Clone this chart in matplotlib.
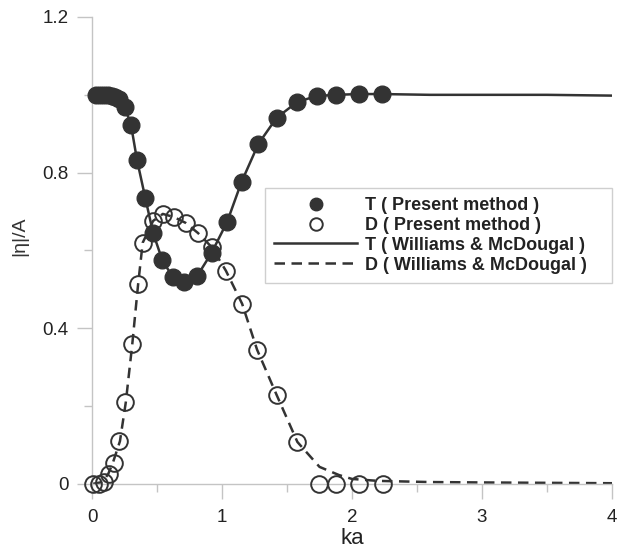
import matplotlib
matplotlib.use("Agg")
import matplotlib.pyplot as plt
from matplotlib.ticker import MultipleLocator, FuncFormatter

plt.rcParams['font.family'] = ['Liberation Sans', 'DejaVu Sans']

# T (present method) - filled circles
t_ka = [0.03, 0.06, 0.09, 0.12, 0.15, 0.18, 0.21, 0.25, 0.30, 0.346, 0.41, 0.47,
        0.54, 0.62, 0.71, 0.81, 0.92, 1.04, 1.15, 1.28, 1.42, 1.58, 1.73, 1.88, 2.05, 2.23]
t_val = [1.0, 1.0, 1.0, 1.0, 0.998, 0.995, 0.99, 0.97, 0.923, 0.833, 0.735, 0.645,
         0.576, 0.532, 0.519, 0.535, 0.594, 0.674, 0.776, 0.874, 0.941, 0.982, 0.997, 1.0, 1.003, 1.003]

# D (present method) - open circles
d_ka = [0.01, 0.05, 0.09, 0.13, 0.17, 0.21, 0.255, 0.31, 0.355, 0.39, 0.47, 0.545,
        0.63, 0.72, 0.815, 0.92, 1.03, 1.155, 1.27, 1.42, 1.58, 1.745, 1.88, 2.05, 2.24]
d_val = [0.0, 0.0, 0.005, 0.025, 0.054, 0.11, 0.21, 0.36, 0.514, 0.62, 0.676, 0.694,
         0.686, 0.671, 0.645, 0.609, 0.548, 0.463, 0.345, 0.229, 0.108, 0.0, 0.0, 0.0, 0.0]

# T (Williams & McDougal) - solid line
tw_ka = [0.0, 0.1, 0.2, 0.25, 0.30, 0.346, 0.41, 0.47, 0.54, 0.62, 0.71, 0.81, 0.92,
         1.04, 1.15, 1.28, 1.42, 1.58, 1.73, 1.88, 2.05, 2.23, 2.6, 3.0, 3.5, 4.0]
tw_val = [1.0, 1.0, 0.993, 0.97, 0.923, 0.833, 0.735, 0.645, 0.576, 0.532, 0.519, 0.535,
          0.594, 0.674, 0.776, 0.874, 0.941, 0.982, 0.997, 1.0, 1.002, 1.002, 1.0, 1.0, 1.0, 0.998]

# D (Williams & McDougal) - dashed line
dw_ka = [0.0, 0.08, 0.125, 0.16, 0.215, 0.26, 0.31, 0.355, 0.39, 0.47, 0.545, 0.63,
         0.72, 0.815, 0.92, 1.03, 1.155, 1.27, 1.42, 1.58, 1.75, 1.9, 2.0, 2.2, 2.6,
         3.0, 3.5, 4.0]
dw_val = [0.0, 0.005, 0.026, 0.054, 0.11, 0.21, 0.36, 0.514, 0.62, 0.676, 0.694, 0.686,
          0.671, 0.645, 0.609, 0.548, 0.463, 0.345, 0.229, 0.108, 0.044, 0.023, 0.013,
          0.008, 0.005, 0.004, 0.003, 0.002]

labels = ['T ( Present method )', 'D ( Present method )',
          'T ( Williams & McDougal )', 'D ( Williams & McDougal )']

dark = '#333333'
gray = '#c4c4c4'

fig = plt.figure(figsize=(6.18, 5.5), dpi=100)
ax = fig.add_axes([92/618, 1-484/550, (612-92)/618, (484-17)/550])

ln_t, = ax.plot(tw_ka, tw_val, '-', color=dark, lw=1.8, zorder=2)
ln_d, = ax.plot(dw_ka, dw_val, '--', color=dark, lw=1.8, dashes=(4.2, 2.6), zorder=2)
pt_t, = ax.plot(t_ka, t_val, 'o', ms=12, mfc=dark, mec=dark, ls='none', zorder=3, clip_on=False)
pt_d, = ax.plot(d_ka, d_val, 'o', ms=12, mfc='none', mec=dark, mew=1.4, ls='none', zorder=4, clip_on=False)

ax.set_xlim(0, 4)
ax.set_ylim(0, 1.2)
ax.xaxis.set_major_locator(MultipleLocator(1))
ax.xaxis.set_minor_locator(MultipleLocator(0.5))
ax.yaxis.set_major_locator(MultipleLocator(0.4))
ax.yaxis.set_minor_locator(MultipleLocator(0.2))
ax.xaxis.set_major_formatter(FuncFormatter(lambda v, p: f'{v:g}'))
ax.yaxis.set_major_formatter(FuncFormatter(lambda v, p: f'{v:g}'))

for s in ['top', 'right']:
    ax.spines[s].set_visible(False)
for s in ['left', 'bottom']:
    ax.spines[s].set_color(gray)
    ax.spines[s].set_linewidth(1.0)

ax.tick_params(which='major', direction='out', length=11, width=1.0, color=gray,
               labelsize=13.5, labelcolor='#222222')
ax.tick_params(which='minor', direction='out', length=5.5, width=1.0, color=gray)
ax.tick_params(axis='x', which='major', pad=7)
ax.tick_params(axis='y', which='major', pad=6)

ax.set_xlabel('ka', fontsize=16, color='#222222')
ax.xaxis.set_label_coords(0.5, -0.095)
ax.set_ylabel('|η|/A', fontsize=14, color='#333333')
ax.yaxis.set_label_coords(-0.122, 0.53)

leg = ax.legend([pt_t, pt_d, ln_t, ln_d], labels, loc='upper left', mode='expand',
                bbox_to_anchor=((265-92)/520, (484-188)/467, (612-265)/520, 0.0),
                borderaxespad=0, fancybox=False,
                frameon=True, edgecolor=gray, handlelength=4.6, handletextpad=0.45,
                labelspacing=0.16, borderpad=0.5, markerscale=0.75,
                prop={'weight': 'bold', 'size': 13}, labelcolor='#222222')
leg.get_frame().set_linewidth(1.0)

fig.savefig('out.png', dpi=100)
